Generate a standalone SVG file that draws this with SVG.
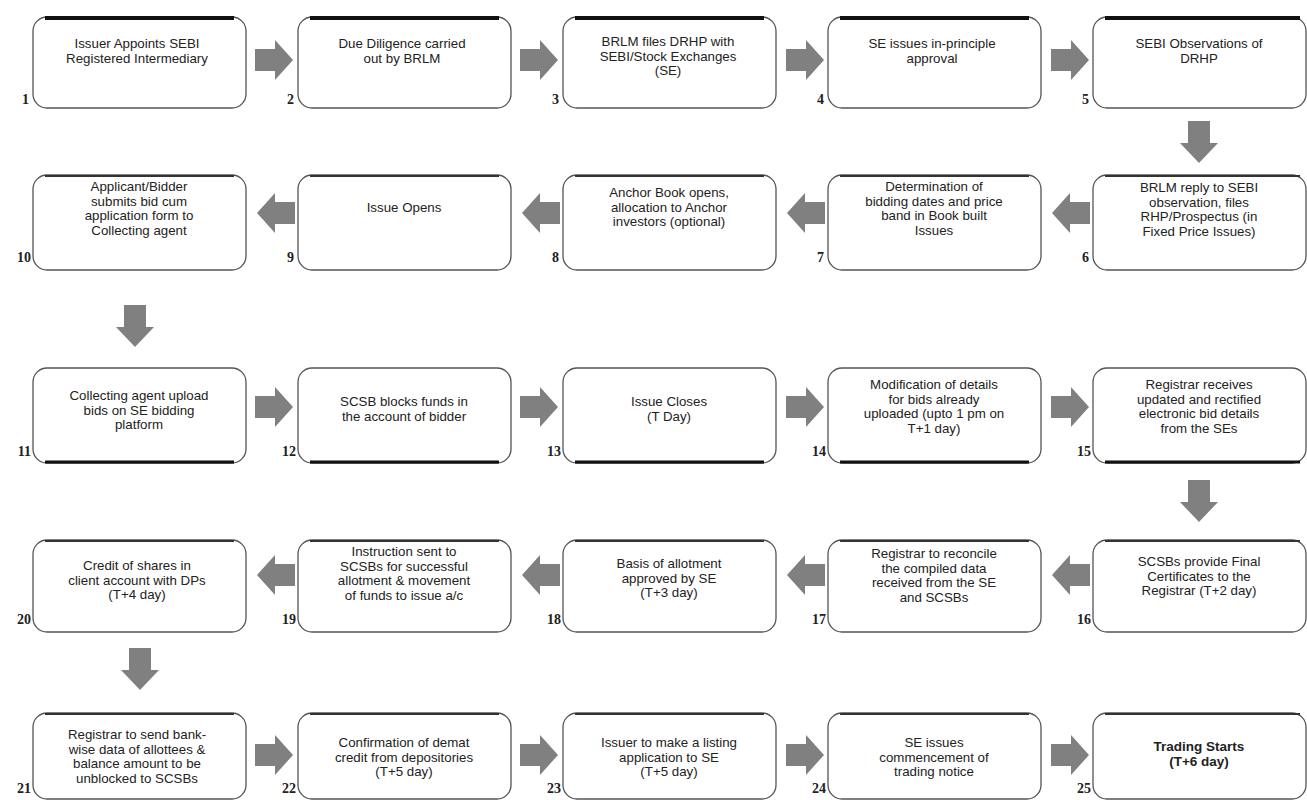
<svg xmlns="http://www.w3.org/2000/svg" width="1307" height="800" viewBox="0 0 1307 800">
<defs>
<style>
.bx{fill:#fff;stroke:#555;stroke-width:1.3}
.t{font-family:"Liberation Sans",Arial,sans-serif;font-size:13.3px;fill:#222;text-anchor:middle}
.tb{font-family:"Liberation Sans",Arial,sans-serif;font-size:13.5px;font-weight:bold;fill:#222;text-anchor:middle}
.n{font-family:"Liberation Serif","Times New Roman",serif;font-size:14px;font-weight:bold;fill:#222;text-anchor:end}
.edge1{stroke:#111;stroke-width:4;fill:none}
.edge2{stroke:#333;stroke-width:2;fill:none}
.ar{fill:#808080}
</style>
<polygon id="ar" class="ar" points="0,-11 20,-11 20,-20 38,0 20,20 20,11 0,11"/>
<polygon id="ad" class="ar" points="-11,0 11,0 11,22 19,22 0,42 -19,22 -11,22"/>
</defs>
<rect width="1307" height="800" fill="#fff"/>

<g id="connectors">
<use href="#ar" x="255" y="60"/>
<use href="#ar" x="520" y="60"/>
<use href="#ar" x="786" y="60"/>
<use href="#ar" x="1051" y="60"/>
<use href="#ad" x="1199" y="121"/>
<use href="#ar" transform="translate(1090,213) scale(-1,1)"/>
<use href="#ar" transform="translate(825,213) scale(-1,1)"/>
<use href="#ar" transform="translate(560,213) scale(-1,1)"/>
<use href="#ar" transform="translate(295,213) scale(-1,1)"/>
<use href="#ad" x="135" y="305"/>
<use href="#ar" x="255" y="407"/>
<use href="#ar" x="520" y="407"/>
<use href="#ar" x="786" y="407"/>
<use href="#ar" x="1051" y="407"/>
<use href="#ad" x="1199" y="480"/>
<use href="#ar" transform="translate(1090,575) scale(-1,1)"/>
<use href="#ar" transform="translate(825,575) scale(-1,1)"/>
<use href="#ar" transform="translate(560,575) scale(-1,1)"/>
<use href="#ar" transform="translate(295,575) scale(-1,1)"/>
<use href="#ad" x="140" y="648"/>
<use href="#ar" x="255" y="755"/>
<use href="#ar" x="520" y="755"/>
<use href="#ar" x="786" y="755"/>
<use href="#ar" x="1051" y="755"/>
</g>

<!-- Row 1 -->
<g id="n1"><rect class="bx" x="33" y="17" width="213" height="91" rx="14"/><line class="edge1" x1="45" y1="18" x2="234" y2="18"/>
<text class="t" x="137" y="48">Issuer Appoints SEBI</text><text class="t" x="137" y="62.5">Registered Intermediary</text><text class="n" x="29" y="104">1</text></g>
<g id="n2"><rect class="bx" x="298" y="17" width="213" height="91" rx="14"/><line class="edge1" x1="310" y1="18" x2="499" y2="18"/>
<text class="t" x="402" y="48">Due Diligence carried</text><text class="t" x="402" y="62.5">out by BRLM</text><text class="n" x="294" y="104">2</text></g>
<g id="n3"><rect class="bx" x="563" y="17" width="213" height="91" rx="14"/><line class="edge1" x1="575" y1="18" x2="764" y2="18"/>
<text class="t" x="668" y="46">BRLM files DRHP with</text><text class="t" x="668" y="60.5">SEBI/Stock Exchanges</text><text class="t" x="668" y="75">(SE)</text><text class="n" x="559" y="104">3</text></g>
<g id="n4"><rect class="bx" x="828" y="17" width="213" height="91" rx="14"/><line class="edge1" x1="840" y1="18" x2="1029" y2="18"/>
<text class="t" x="932" y="48">SE issues in-principle</text><text class="t" x="932" y="62.5">approval</text><text class="n" x="824" y="104">4</text></g>
<g id="n5"><rect class="bx" x="1093" y="17" width="213" height="91" rx="14"/><line class="edge1" x1="1105" y1="18" x2="1300" y2="18"/>
<text class="t" x="1199" y="48">SEBI Observations of</text><text class="t" x="1199" y="62.5">DRHP</text><text class="n" x="1089" y="104">5</text></g>

<!-- Row 2 -->
<g id="n6"><rect class="bx" x="1093" y="175" width="213" height="95" rx="14"/><line class="edge2" x1="1105" y1="176" x2="1300" y2="176"/>
<text class="t" x="1199" y="192">BRLM reply to SEBI</text><text class="t" x="1199" y="206.5">observation, files</text><text class="t" x="1199" y="221">RHP/Prospectus (in</text><text class="t" x="1199" y="235.5">Fixed Price Issues)</text><text class="n" x="1089" y="262">6</text></g>
<g id="n7"><rect class="bx" x="828" y="175" width="213" height="95" rx="14"/><line class="edge2" x1="840" y1="176" x2="1029" y2="176"/>
<text class="t" x="934" y="191">Determination of</text><text class="t" x="934" y="205.5">bidding dates and price</text><text class="t" x="934" y="220">band in Book built</text><text class="t" x="934" y="234.5">Issues</text><text class="n" x="824" y="262">7</text></g>
<g id="n8"><rect class="bx" x="563" y="175" width="213" height="95" rx="14"/><line class="edge2" x1="575" y1="176" x2="764" y2="176"/>
<text class="t" x="669" y="197">Anchor Book opens,</text><text class="t" x="669" y="211.5">allocation to Anchor</text><text class="t" x="669" y="226">investors (optional)</text><text class="n" x="559" y="262">8</text></g>
<g id="n9"><rect class="bx" x="298" y="175" width="213" height="95" rx="14"/><line class="edge2" x1="310" y1="176" x2="499" y2="176"/>
<text class="t" x="404" y="212">Issue Opens</text><text class="n" x="294" y="262">9</text></g>
<g id="n10"><rect class="bx" x="33" y="175" width="213" height="95" rx="14"/><line class="edge2" x1="45" y1="176" x2="234" y2="176"/>
<text class="t" x="139" y="191">Applicant/Bidder</text><text class="t" x="139" y="205.5">submits bid cum</text><text class="t" x="139" y="220">application form to</text><text class="t" x="139" y="234.5">Collecting agent</text><text class="n" x="31" y="262">10</text></g>

<!-- Row 3 -->
<g id="n11"><rect class="bx" x="33" y="368" width="213" height="95" rx="14"/><line class="edge1" x1="45" y1="462" x2="234" y2="462" style="stroke-width:3"/>
<text class="t" x="139" y="400">Collecting agent upload</text><text class="t" x="139" y="414.5">bids on SE bidding</text><text class="t" x="139" y="429">platform</text><text class="n" x="31" y="456">11</text></g>
<g id="n12"><rect class="bx" x="298" y="368" width="213" height="95" rx="14"/><line class="edge1" x1="310" y1="462" x2="499" y2="462" style="stroke-width:3"/>
<text class="t" x="404" y="406">SCSB blocks funds in</text><text class="t" x="404" y="420.5">the account of bidder</text><text class="n" x="296" y="456">12</text></g>
<g id="n13"><rect class="bx" x="563" y="368" width="213" height="95" rx="14"/><line class="edge1" x1="575" y1="462" x2="764" y2="462" style="stroke-width:3"/>
<text class="t" x="669" y="406">Issue Closes</text><text class="t" x="669" y="420.5">(T Day)</text><text class="n" x="561" y="456">13</text></g>
<g id="n14"><rect class="bx" x="828" y="368" width="213" height="95" rx="14"/><line class="edge1" x1="840" y1="462" x2="1029" y2="462" style="stroke-width:3"/>
<text class="t" x="934" y="389">Modification  of details</text><text class="t" x="934" y="403.5">for bids already</text><text class="t" x="934" y="418">uploaded (upto 1 pm on</text><text class="t" x="934" y="432.5">T+1 day)</text><text class="n" x="826" y="456">14</text></g>
<g id="n15"><rect class="bx" x="1093" y="368" width="213" height="95" rx="14"/><line class="edge1" x1="1105" y1="462" x2="1300" y2="462" style="stroke-width:3"/>
<text class="t" x="1199" y="389">Registrar receives</text><text class="t" x="1199" y="403.5">updated and rectified</text><text class="t" x="1199" y="418">electronic bid details</text><text class="t" x="1199" y="432.5">from the SEs</text><text class="n" x="1091" y="456">15</text></g>

<!-- Row 4 -->
<g id="n16"><rect class="bx" x="1093" y="540" width="213" height="92" rx="14"/><line class="edge2" x1="1105" y1="541" x2="1300" y2="541"/>
<text class="t" x="1199" y="566">SCSBs provide Final</text><text class="t" x="1199" y="580.5">Certificates to the</text><text class="t" x="1199" y="595">Registrar  (T+2 day)</text><text class="n" x="1091" y="624">16</text></g>
<g id="n17"><rect class="bx" x="828" y="540" width="213" height="92" rx="14"/><line class="edge2" x1="840" y1="541" x2="1029" y2="541"/>
<text class="t" x="934" y="558">Registrar to reconcile</text><text class="t" x="934" y="572.5">the compiled data</text><text class="t" x="934" y="587">received from the SE</text><text class="t" x="934" y="601.5">and SCSBs</text><text class="n" x="826" y="624">17</text></g>
<g id="n18"><rect class="bx" x="563" y="540" width="213" height="92" rx="14"/><line class="edge2" x1="575" y1="541" x2="764" y2="541"/>
<text class="t" x="669" y="568">Basis of allotment</text><text class="t" x="669" y="582.5">approved by SE</text><text class="t" x="669" y="597">(T+3 day)</text><text class="n" x="561" y="624">18</text></g>
<g id="n19"><rect class="bx" x="298" y="540" width="213" height="92" rx="14"/><line class="edge2" x1="310" y1="541" x2="499" y2="541"/>
<text class="t" x="404" y="556">Instruction sent to</text><text class="t" x="404" y="570.5">SCSBs for successful</text><text class="t" x="404" y="585">allotment &amp; movement</text><text class="t" x="404" y="599.5">of funds to issue a/c</text><text class="n" x="296" y="624">19</text></g>
<g id="n20"><rect class="bx" x="33" y="540" width="213" height="92" rx="14"/><line class="edge2" x1="45" y1="541" x2="234" y2="541"/>
<text class="t" x="137" y="570">Credit of shares in</text><text class="t" x="137" y="584.5">client account with DPs</text><text class="t" x="137" y="599">(T+4 day)</text><text class="n" x="31" y="624">20</text></g>

<!-- Row 5 -->
<g id="n21"><rect class="bx" x="33" y="713" width="213" height="86" rx="14"/><line class="edge2" x1="45" y1="714" x2="234" y2="714"/>
<text class="t" x="137" y="739">Registrar to send bank-</text><text class="t" x="137" y="753.5">wise data of allottees &amp;</text><text class="t" x="137" y="768">balance amount to be</text><text class="t" x="137" y="782.5">unblocked to SCSBs</text><text class="n" x="31" y="793">21</text></g>
<g id="n22"><rect class="bx" x="298" y="713" width="213" height="86" rx="14"/><line class="edge2" x1="310" y1="714" x2="499" y2="714"/>
<text class="t" x="404" y="747">Confirmation of demat</text><text class="t" x="404" y="761.5">credit from depositories</text><text class="t" x="404" y="776">(T+5 day)</text><text class="n" x="296" y="793">22</text></g>
<g id="n23"><rect class="bx" x="563" y="713" width="213" height="86" rx="14"/><line class="edge2" x1="575" y1="714" x2="764" y2="714"/>
<text class="t" x="669" y="747">Issuer to make a listing</text><text class="t" x="669" y="761.5">application to SE</text><text class="t" x="669" y="776">(T+5 day)</text><text class="n" x="561" y="793">23</text></g>
<g id="n24"><rect class="bx" x="828" y="713" width="213" height="86" rx="14"/><line class="edge2" x1="840" y1="714" x2="1029" y2="714"/>
<text class="t" x="934" y="747">SE issues</text><text class="t" x="934" y="761.5">commencement of</text><text class="t" x="934" y="776">trading notice</text><text class="n" x="826" y="793">24</text></g>
<g id="n25"><rect class="bx" x="1093" y="713" width="213" height="86" rx="14"/><line class="edge2" x1="1105" y1="714" x2="1300" y2="714"/>
<text class="tb" x="1199" y="751">Trading Starts</text><text class="tb" x="1199" y="766">(T+6 day)</text><text class="n" x="1091" y="793">25</text></g>
</svg>
